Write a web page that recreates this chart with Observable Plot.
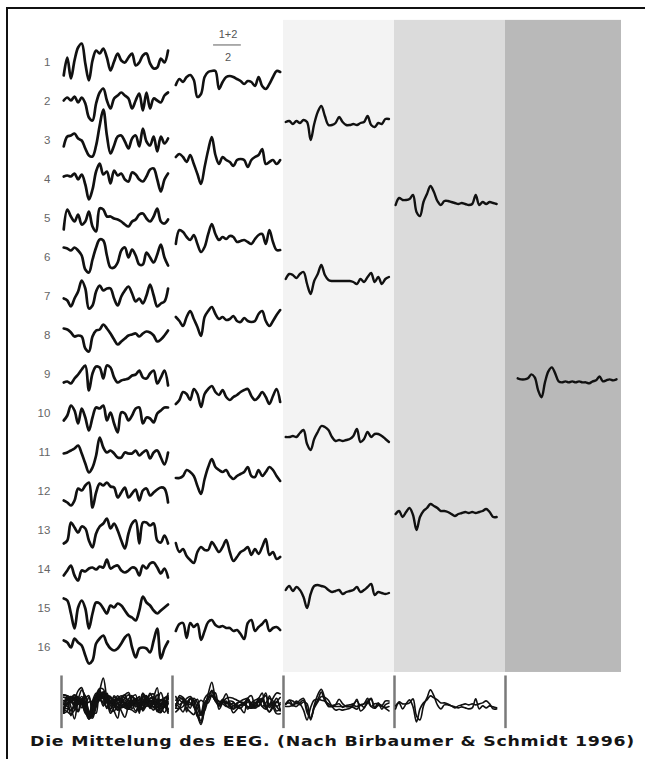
<!DOCTYPE html>
<html><head><meta charset="utf-8">
<script src="https://cdn.jsdelivr.net/npm/d3@7"></script>
<script src="https://cdn.jsdelivr.net/npm/@observablehq/plot@0.6"></script>
<style>
body{margin:0;background:#fff;}
#wrap{position:relative;width:645px;height:759px;overflow:hidden;background:#fff;}
#frame{position:absolute;left:6px;top:7px;width:700px;height:800px;border-left:2px solid #111;border-top:2px solid #111;}
#chart{position:absolute;left:0;top:0;}
#caption{position:absolute;left:30px;top:733px;line-height:18px;font:bold 14px "DejaVu Sans",sans-serif;color:#151515;white-space:nowrap;}
#capText{display:inline-block;transform-origin:0 50%;letter-spacing:0.6px;}
</style></head><body>
<div id="wrap"><div id="frame"></div><div id="chart"></div><div id="caption"><span id="capText"></span></div></div>
<script>
// ---- text ----
const rowLabels = ["1","2","3","4","5","6","7","8","9","10","11","12","13","14","15","16"];
const fractionTop = "1+2";
const fractionBottom = "2";
const captionText = "Die Mittelung des EEG. (Nach Birbaumer & Schmidt 1996)";

// ---- single EEG sweeps (column 1), up = positive ----
const eeg01 = [-13,5,-16,2,15,19,-1,-18,2,12,9,14,5,-8,1,9,2,0,5,9,-3,0,7,9,-1,-6,-5,4,0,12];
const eeg02 = [1,4,1,5,-1,4,-2,-16,-19,-2,9,13,1,-7,3,6,9,6,3,-7,1,8,-9,9,-7,3,1,-1,6,9];
const eeg03 = [-6,4,5,7,2,0,-8,-15,-16,-5,15,31,5,-13,-5,4,5,-1,-8,2,5,-6,12,-1,-5,4,-11,4,-3,2];
const eeg04 = [3,4,3,6,0,5,-5,-20,-10,8,16,5,8,-4,9,4,6,0,-2,7,5,0,-2,3,10,11,0,-12,0,6];
const eeg05 = [-11,9,2,-3,4,-6,-3,7,-8,-13,10,9,2,2,0,-1,-3,-6,-8,-3,-1,4,5,0,-3,2,10,-3,-5,-1];
const eeg06 = [10,9,7,10,7,2,-12,-15,-2,10,18,17,2,-10,-10,-5,7,10,0,8,2,-7,-7,5,0,-5,3,13,0,-8];
const eeg07 = [-2,-4,-10,-2,5,16,8,-12,-9,5,11,6,8,8,-2,-9,0,6,10,3,-5,-2,-7,1,12,1,-10,-7,-5,8];
const eeg08 = [7,6,3,-1,0,-1,-13,-16,-1,5,6,11,7,2,-4,-9,-6,-3,0,1,2,-1,2,4,3,0,-6,-4,0,5];
const eeg09 = [-8,-7,-9,-4,0,5,9,-16,1,8,7,-4,9,7,-3,-8,-6,-5,-4,-1,0,4,-3,-4,1,4,-9,-3,4,-11];
const eeg10 = [-7,-2,8,3,-10,5,-4,-17,-4,6,5,8,-7,1,-10,-19,1,0,-7,-2,5,6,-10,-4,-5,-9,0,3,6,6];
const eeg11 = [-1,0,2,4,7,-1,-11,-20,-15,-3,15,5,0,2,-1,-5,-5,0,-1,-1,2,-3,0,2,-6,0,2,-5,-12,0];
const eeg12 = [-9,-11,-14,-9,3,1,6,9,-16,-1,8,6,9,5,4,-6,-1,4,-6,-2,2,-9,1,3,-4,-1,2,4,3,-11];
const eeg13 = [-13,-10,8,3,-2,4,2,-10,-17,-3,4,7,12,2,7,0,-10,-18,-3,7,10,-13,8,8,5,7,-10,-12,-5,-13];
const eeg14 = [-6,-1,4,-6,-11,-1,-2,1,2,0,3,2,10,1,3,4,-1,-3,-1,2,1,-6,4,1,6,7,2,-4,1,-8];
const eeg15 = [10,8,-5,-20,1,8,0,-20,-5,6,5,0,-5,3,1,5,3,-2,-7,-9,-12,-2,12,6,3,-2,-5,-2,1,4];
const eeg16 = [7,5,0,9,5,2,-8,-16,-13,4,9,12,4,-1,-3,-1,4,10,13,0,-10,-1,0,-1,-5,7,19,-11,-1,6];

// ---- averages of 2 sweeps (column 2) ----
const avg2_1 = [-3,3,0,5,7,2,-15,-12,5,10,11,11,-7,0,5,6,5,3,1,-2,1,0,-4,5,-4,-7,-2,5,11,10];
const avg2_2 = [3,6,3,-2,5,-4,-14,-24,-7,10,23,5,-4,3,0,-2,-6,0,1,0,-7,0,3,5,11,-4,-2,0,-4,0];
const avg2_3 = [-6,8,6,1,-2,3,-6,-14,-9,4,14,4,-2,1,-1,2,1,-4,-3,-2,-4,-6,-1,3,4,-6,8,-4,-12,-12];
const avg2_4 = [-1,-5,-10,-1,5,-3,-11,-20,-1,5,9,2,-3,-1,-4,-3,0,-5,-6,-2,-5,-6,-5,2,5,-5,-10,-5,1,6];
const avg2_5 = [-10,-6,2,0,-6,5,0,-13,0,5,8,2,-1,4,-3,-6,-3,-1,2,4,5,-2,-6,-3,2,-3,-10,-2,5,-8];
const avg2_6 = [-6,-6,-4,2,0,-4,-14,-22,-7,5,13,5,2,0,2,-4,-7,-4,-2,0,5,-4,-5,2,-4,0,5,2,-4,-9];
const avg2_7 = [7,-2,1,-6,-10,-13,-2,3,0,0,8,3,-2,3,10,-2,-11,-7,-2,0,3,-5,1,-4,3,11,-5,-2,-9,-7];
const avg2_8 = [-3,4,5,-10,5,1,4,-12,-3,6,8,3,1,2,0,0,-3,-2,-6,-11,5,8,-3,1,4,8,-3,0,1,-2];

// ---- averages of 4 sweeps (column 3) ----
const avg4_1 = [-1,0,-3,0,-2,1,-1,-19,-3,9,15,5,-4,-4,-2,4,-1,-4,-4,-3,-4,-2,-1,5,-4,-6,-2,-3,2,2];
const avg4_2 = [-2,3,2,-1,3,5,-7,-17,-4,3,12,2,-3,-4,-4,-4,-4,-4,-4,-5,-7,-2,-5,0,4,-5,0,-7,-2,0];
const avg4_3 = [-4,-4,-3,-4,0,3,-11,-17,-6,1,7,6,3,-4,-8,-7,-8,-7,-6,-3,4,-9,-6,1,-4,-1,-1,-3,-6,-9];
const avg4_4 = [-1,3,-2,2,-1,-8,-19,-5,3,4,3,2,-1,-3,-2,-1,-5,-3,-2,-1,2,-3,-1,2,5,-6,-3,-4,-5,-4];

// ---- averages of 8 sweeps (column 4) ----
const avg8_1 = [-6,1,-1,-1,0,4,-13,-17,-3,5,13,7,-2,-6,-2,-2,-3,-4,-5,-4,-5,-6,-5,4,-6,-3,-5,-3,-4,-5];
const avg8_2 = [-3,0,-6,-1,3,-4,-19,-6,0,3,7,5,3,0,0,-1,-3,-5,-3,-2,-1,-2,-1,-2,-1,0,2,-1,-6,-6];

// ---- average of all 16 sweeps (column 5) ----
const avg16 = [2,1,1,2,6,3,-10,-17,-2,9,13,7,-1,-2,-1,-2,-1,-2,-1,-2,-2,-3,-1,0,4,-1,0,1,0,1];

const columns = [
  [eeg01,eeg02,eeg03,eeg04,eeg05,eeg06,eeg07,eeg08,eeg09,eeg10,eeg11,eeg12,eeg13,eeg14,eeg15,eeg16],
  [avg2_1,avg2_2,avg2_3,avg2_4,avg2_5,avg2_6,avg2_7,avg2_8],
  [avg4_1,avg4_2,avg4_3,avg4_4],
  [avg8_1,avg8_2],
  [avg16]
];

// ---- layout (not data) ----
const layout = {
  span: [[0.02,0.96],[0.03,0.97],[0.02,0.95],[0.01,0.92],[0.11,1.0]],
  rowShift: [0,0,0,0,0.65],
  unitsPerRow: 39,
  bottomRow: 17.42,
  bottomGain: [0.8,0.9,0.9,1.0],
  lineWidth: [2.7,2.6,2.4,2.4,2.4],
  shade: [null,null,"#f3f3f3","#dbdbdb","#b9b9b9"],
  shadeEnd: [null,null,3,4,5.045]
};

const main = [], bottom = [];
columns.forEach((traces, c) => {
  const per = 16 / traces.length;
  traces.forEach((vals, k) => {
    const center = k * per + (per + 1) / 2 + layout.rowShift[c];
    vals.forEach((v, i) => {
      main.push({c, key: c + "-" + k, i, n: vals.length, v, center});
      if (c < 4) bottom.push({c, key: "b" + c + "-" + k, i, n: vals.length, v, center: layout.bottomRow, gain: layout.bottomGain[c]});
    });
  });
});
const xPos = d => d.c + layout.span[d.c][0] + (d.i / (d.n - 1)) * (layout.span[d.c][1] - layout.span[d.c][0]);
const yPos = d => d.center - (d.v * (d.gain ?? 1)) / layout.unitsPerRow;

const shades = [2,3,4].map(c => ({c, x2: layout.shadeEnd[c], fill: layout.shade[c]}));

const marks = [
  Plot.rect(shades, {x1: "c", x2: "x2", y1: -0.08, y2: 16.64, fill: "fill"}),
  Plot.ruleX([0,1,2,3,4], {y1: 16.73, y2: 18.08, stroke: "#7a7a7a", strokeWidth: 2.5}),
  Plot.text(rowLabels, {x: -0.1, y: (d, i) => i + 1, text: d => d, textAnchor: "end", fontSize: 11.5, fill: "#666", fontFamily: "Liberation Sans"}),
  Plot.text([fractionTop], {x: 1.5, y: 0.27, text: d => d, fontSize: 11, fill: "#555", fontFamily: "Liberation Sans"}),
  Plot.text([fractionBottom], {x: 1.5, y: 0.88, text: d => d, fontSize: 11, fill: "#555", fontFamily: "Liberation Sans"}),
  Plot.ruleY([0.55], {x1: 1.37, x2: 1.62, stroke: "#777", strokeWidth: 1.2})
];
for (let c = 0; c < 5; c++) {
  marks.push(Plot.line(main.filter(d => d.c === c), {x: xPos, y: yPos, z: "key", curve: "catmull-rom", stroke: "#111", strokeWidth: layout.lineWidth[c], strokeLinejoin: "round", strokeLinecap: "round"}));
}
marks.push(Plot.line(bottom, {x: xPos, y: yPos, z: "key", curve: "catmull-rom", stroke: "#111", strokeWidth: 1.6, strokeLinejoin: "round"}));

const chart = Plot.plot({
  width: 645, height: 735,
  marginTop: 0, marginBottom: 0, marginLeft: 0, marginRight: 0,
  x: {domain: [0, 5], range: [61, 616], axis: null},
  y: {domain: [0, 18], range: [23, 725], axis: null},
  style: {background: "transparent"},
  marks
});
document.getElementById("chart").appendChild(chart);

const cap = document.getElementById("capText");
cap.textContent = captionText;
const w = cap.getBoundingClientRect().width;
cap.style.transform = "scaleX(" + (605 / w) + ")";
</script>
</body></html>
